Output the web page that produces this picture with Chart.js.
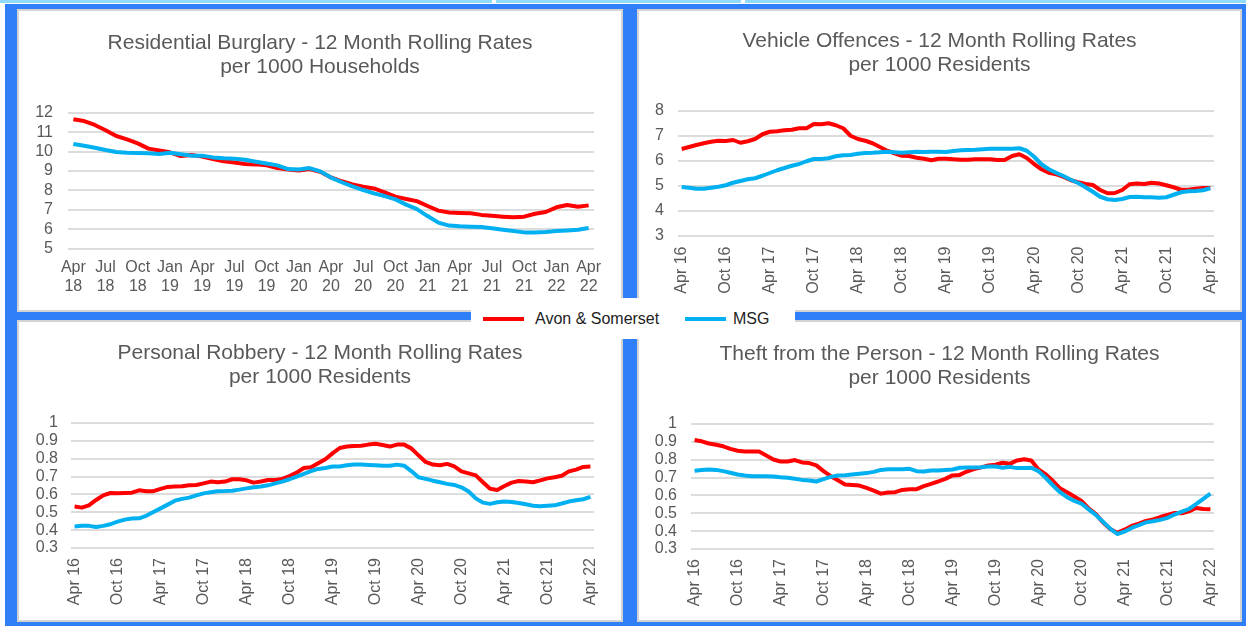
<!DOCTYPE html>
<html><head><meta charset="utf-8">
<script src="https://cdn.jsdelivr.net/npm/chart.js@4.4.0/dist/chart.umd.min.js"></script>
<style>
html,body{margin:0;padding:0;background:#fff;}
body{width:1246px;height:626px;overflow:hidden;position:relative;font-family:"Liberation Sans",Arial,sans-serif;}
.strip{position:absolute;top:0;height:3px;background:#8fd9fb;}
.frame{position:absolute;left:5px;top:4px;width:1241px;height:622px;background:#2f7ff8;}
.panel{position:absolute;background:#fff;border:2px solid #d3d3d3;box-sizing:border-box;}
canvas{position:absolute;}
.legend{position:absolute;left:471px;top:298px;width:324px;height:41px;background:#fff;}
.lg-line{position:absolute;height:4px;width:41px;}
.lg-text{position:absolute;font-size:16px;line-height:20px;color:#222;white-space:nowrap;}
</style></head>
<body>
<div class="strip" style="left:0;width:492px"></div>
<div class="strip" style="left:496px;width:245px"></div>
<div class="strip" style="left:745px;width:501px"></div>
<div class="frame"></div>
<div class="panel" style="left:17px;top:9px;width:606px;height:303px"></div>
<div class="panel" style="left:637px;top:9px;width:605px;height:303px"></div>
<div class="panel" style="left:17px;top:320px;width:606px;height:302px"></div>
<div class="panel" style="left:637px;top:320px;width:605px;height:302px"></div>
<canvas id="c1" width="606" height="303" style="left:17px;top:9px"></canvas>
<canvas id="c2" width="605" height="303" style="left:637px;top:9px"></canvas>
<canvas id="c3" width="606" height="302" style="left:17px;top:320px"></canvas>
<canvas id="c4" width="605" height="302" style="left:637px;top:320px"></canvas>
<div class="legend"></div>
<div class="lg-line" style="left:483px;top:317px;background:#ff0000"></div>
<div class="lg-text" style="left:535px;top:308.5px">Avon &amp; Somerset</div>
<div class="lg-line" style="left:685px;top:317px;background:#00b0f0"></div>
<div class="lg-text" style="left:733px;top:308.5px">MSG</div>
<script>
const months16 = ['Apr 16','May 16','Jun 16','Jul 16','Aug 16','Sep 16','Oct 16','Nov 16','Dec 16','Jan 17','Feb 17','Mar 17',
'Apr 17','May 17','Jun 17','Jul 17','Aug 17','Sep 17','Oct 17','Nov 17','Dec 17','Jan 18','Feb 18','Mar 18',
'Apr 18','May 18','Jun 18','Jul 18','Aug 18','Sep 18','Oct 18','Nov 18','Dec 18','Jan 19','Feb 19','Mar 19',
'Apr 19','May 19','Jun 19','Jul 19','Aug 19','Sep 19','Oct 19','Nov 19','Dec 19','Jan 20','Feb 20','Mar 20',
'Apr 20','May 20','Jun 20','Jul 20','Aug 20','Sep 20','Oct 20','Nov 20','Dec 20','Jan 21','Feb 21','Mar 21',
'Apr 21','May 21','Jun 21','Jul 21','Aug 21','Sep 21','Oct 21','Nov 21','Dec 21','Jan 22','Feb 22','Mar 22',
'Apr 22'];
const months18 = months16.slice(24);

const seriesNames = ['Avon & Somerset', 'MSG'];

const burglaryAS = [11.66,11.57,11.37,11.1,10.8,10.63,10.42,10.15,10.05,9.96,
9.77,9.82,9.74,9.62,9.5,9.44,9.36,9.34,9.29,9.15,
9.07,9.02,9.1,8.96,8.67,8.47,8.31,8.19,8.1,7.9,
7.68,7.56,7.45,7.2,6.96,6.86,6.84,6.82,6.74,6.69,
6.65,6.62,6.65,6.8,6.89,7.13,7.25,7.16,7.23];
const burglaryMSG = [10.39,10.3,10.2,10.08,9.98,9.94,9.92,9.91,9.87,9.94,
9.86,9.79,9.79,9.7,9.65,9.63,9.58,9.48,9.39,9.29,
9.1,9.08,9.15,8.98,8.66,8.42,8.21,8.02,7.85,7.71,
7.54,7.27,7.04,6.68,6.34,6.19,6.15,6.13,6.12,6.05,
5.98,5.91,5.84,5.84,5.86,5.91,5.94,5.98,6.07];

const vehicleAS = [6.48,6.56,6.64,6.71,6.77,6.81,6.8,6.84,6.73,6.79,
6.88,7.07,7.17,7.19,7.23,7.25,7.31,7.31,7.48,7.47,
7.51,7.43,7.31,7.01,6.88,6.81,6.71,6.56,6.41,6.31,
6.21,6.2,6.13,6.09,6.03,6.09,6.09,6.07,6.05,6.05,
6.07,6.07,6.07,6.04,6.04,6.2,6.27,6.12,5.88,5.67,
5.53,5.47,5.36,5.23,5.15,5.08,5.04,4.84,4.71,4.72,
4.84,5.07,5.1,5.08,5.13,5.1,5.03,4.95,4.85,4.85,
4.89,4.92,4.92];
const vehicleMSG = [4.96,4.93,4.89,4.89,4.93,4.97,5.03,5.13,5.2,5.27,
5.31,5.41,5.52,5.63,5.72,5.81,5.88,5.99,6.08,6.08,
6.11,6.19,6.23,6.24,6.29,6.32,6.33,6.35,6.37,6.35,
6.33,6.35,6.37,6.36,6.37,6.37,6.36,6.4,6.43,6.44,
6.45,6.47,6.49,6.49,6.49,6.49,6.51,6.41,6.17,5.87,
5.67,5.53,5.4,5.25,5.12,4.95,4.77,4.57,4.47,4.44,
4.48,4.56,4.57,4.55,4.55,4.53,4.55,4.65,4.75,4.79,
4.8,4.83,4.91];

const robberyAS = [0.532,0.526,0.539,0.569,0.595,0.608,0.606,0.608,0.61,0.623,
0.618,0.618,0.631,0.642,0.644,0.646,0.651,0.653,0.662,0.672,
0.668,0.672,0.685,0.685,0.679,0.666,0.672,0.681,0.681,0.687,
0.703,0.722,0.748,0.752,0.774,0.797,0.83,0.86,0.868,0.871,
0.873,0.879,0.884,0.877,0.868,0.879,0.879,0.858,0.819,0.782,
0.767,0.763,0.771,0.757,0.729,0.718,0.707,0.668,0.632,0.625,
0.647,0.666,0.675,0.672,0.668,0.679,0.69,0.696,0.705,0.729,
0.739,0.754,0.756];
const robberyMSG = [0.42,0.424,0.424,0.418,0.424,0.433,0.448,0.459,0.465,0.466,
0.48,0.502,0.522,0.543,0.565,0.575,0.582,0.595,0.606,0.612,
0.618,0.619,0.621,0.627,0.634,0.64,0.644,0.651,0.662,0.672,
0.685,0.7,0.715,0.731,0.743,0.748,0.756,0.756,0.763,0.767,
0.767,0.765,0.763,0.761,0.761,0.767,0.761,0.731,0.696,0.687,
0.677,0.668,0.659,0.653,0.64,0.616,0.578,0.554,0.547,0.556,
0.56,0.558,0.552,0.545,0.537,0.534,0.537,0.539,0.549,0.56,
0.567,0.573,0.586];

const theftAS = [0.91,0.903,0.891,0.884,0.875,0.861,0.85,0.846,0.846,0.846,
0.824,0.801,0.79,0.79,0.798,0.785,0.781,0.768,0.736,0.708,
0.685,0.661,0.659,0.655,0.642,0.627,0.61,0.616,0.618,0.631,
0.635,0.635,0.652,0.665,0.678,0.693,0.712,0.715,0.734,0.747,
0.757,0.768,0.772,0.783,0.777,0.796,0.803,0.796,0.745,0.719,
0.682,0.64,0.618,0.594,0.569,0.528,0.496,0.449,0.412,0.391,
0.408,0.429,0.442,0.457,0.466,0.479,0.491,0.502,0.5,0.511,
0.53,0.524,0.522];
const theftMSG = [0.738,0.742,0.745,0.743,0.736,0.727,0.717,0.712,0.708,0.708,
0.708,0.706,0.702,0.699,0.693,0.687,0.684,0.678,0.691,0.704,
0.712,0.713,0.717,0.721,0.725,0.732,0.743,0.747,0.747,0.747,
0.749,0.736,0.734,0.74,0.74,0.743,0.745,0.755,0.757,0.757,
0.758,0.762,0.762,0.755,0.76,0.753,0.753,0.755,0.736,0.699,
0.657,0.618,0.59,0.569,0.554,0.522,0.491,0.453,0.414,0.384,
0.397,0.418,0.433,0.449,0.455,0.463,0.474,0.493,0.509,0.524,
0.551,0.581,0.61];

const FONT = '"Liberation Sans", Arial, sans-serif';
const TXT = '#595959';

function makeChart(id, labels, asData, msgData, o) {
  new Chart(document.getElementById(id), {
    type: 'line',
    data: {
      labels: labels,
      datasets: [
        {label: seriesNames[0], data: asData, borderColor: '#ff0000', borderWidth: 4, pointRadius: 0, tension: 0, borderJoinStyle: 'round', order: 1},
        {label: seriesNames[1], data: msgData, borderColor: '#00b0f0', borderWidth: 4, pointRadius: 0, tension: 0, borderJoinStyle: 'round', order: 0}
      ]
    },
    options: {
      responsive: false,
      animation: false,
      events: [],
      layout: {padding: 0},
      plugins: {
        legend: {display: false},
        tooltip: {enabled: false},
        title: {
          display: true, text: o.title, color: TXT,
          font: {family: FONT, size: 21, weight: 'normal', lineHeight: 24/21},
          padding: {top: o.tTop, bottom: o.tBottom}
        }
      },
      scales: {
        x: {
          type: 'category', offset: true,
          grid: {display: false, drawTicks: false},
          border: {display: false},
          ticks: {
            autoSkip: false, color: TXT, padding: o.xPad,
            minRotation: o.rotate ? 90 : 0, maxRotation: o.rotate ? 90 : 0,
            font: {family: FONT, size: 16, lineHeight: 1.2},
            callback: function(v, i) {
              if (i % o.every !== 0) return '';
              const l = this.getLabelForValue(v);
              return o.rotate ? l : l.split(' ');
            }
          },
          afterFit: s => { s.height = o.xHeight; }
        },
        y: {
          min: o.min, max: o.max,
          grid: {color: '#dcdcdc', lineWidth: 2, drawTicks: false},
          border: {display: false},
          ticks: {
            stepSize: o.step, autoSkip: false, color: TXT, padding: o.yPad,
            font: {family: FONT, size: 16},
            callback: v => String(+(+v).toFixed(1))
          },
          afterFit: s => { s.width = o.yWidth; }
        },
        yRight: {
          type: 'linear', position: 'right', display: true,
          grid: {display: false, drawTicks: false},
          border: {display: false},
          ticks: {display: false},
          afterFit: s => { s.width = o.rWidth; }
        }
      }
    }
  });
}

makeChart('c1', months18, burglaryAS, burglaryMSG, {
  title: ['Residential Burglary - 12 Month Rolling Rates', 'per 1000 Households'],
  tTop: 22.4, tBottom: 33.3, yWidth: 51, rWidth: 29, yPad: 15, xHeight: 63.3, xPad: 9.2,
  rotate: false, every: 3, min: 5, max: 12, step: 1
});
makeChart('c2', months16, vehicleAS, vehicleMSG, {
  title: ['Vehicle Offences - 12 Month Rolling Rates', 'per 1000 Residents'],
  tTop: 20.7, tBottom: 33.3, yWidth: 41, rWidth: 28, yPad: 14, xHeight: 76, xPad: 10.5,
  rotate: true, every: 6, min: 3, max: 8, step: 1
});
makeChart('c3', months16, robberyAS, robberyMSG, {
  title: ['Personal Robbery - 12 Month Rolling Rates', 'per 1000 Residents'],
  tTop: 21.7, tBottom: 33.3, yWidth: 54, rWidth: 29, yPad: 13, xHeight: 74, xPad: 10,
  rotate: true, every: 6, min: 0.3, max: 1, step: 0.1
});
makeChart('c4', months16, theftAS, theftMSG, {
  title: ['Theft from the Person - 12 Month Rolling Rates', 'per 1000 Residents'],
  tTop: 22.7, tBottom: 33.3, yWidth: 54, rWidth: 28, yPad: 14, xHeight: 73, xPad: 10,
  rotate: true, every: 6, min: 0.3, max: 1, step: 0.1
});
</script>
</body></html>
